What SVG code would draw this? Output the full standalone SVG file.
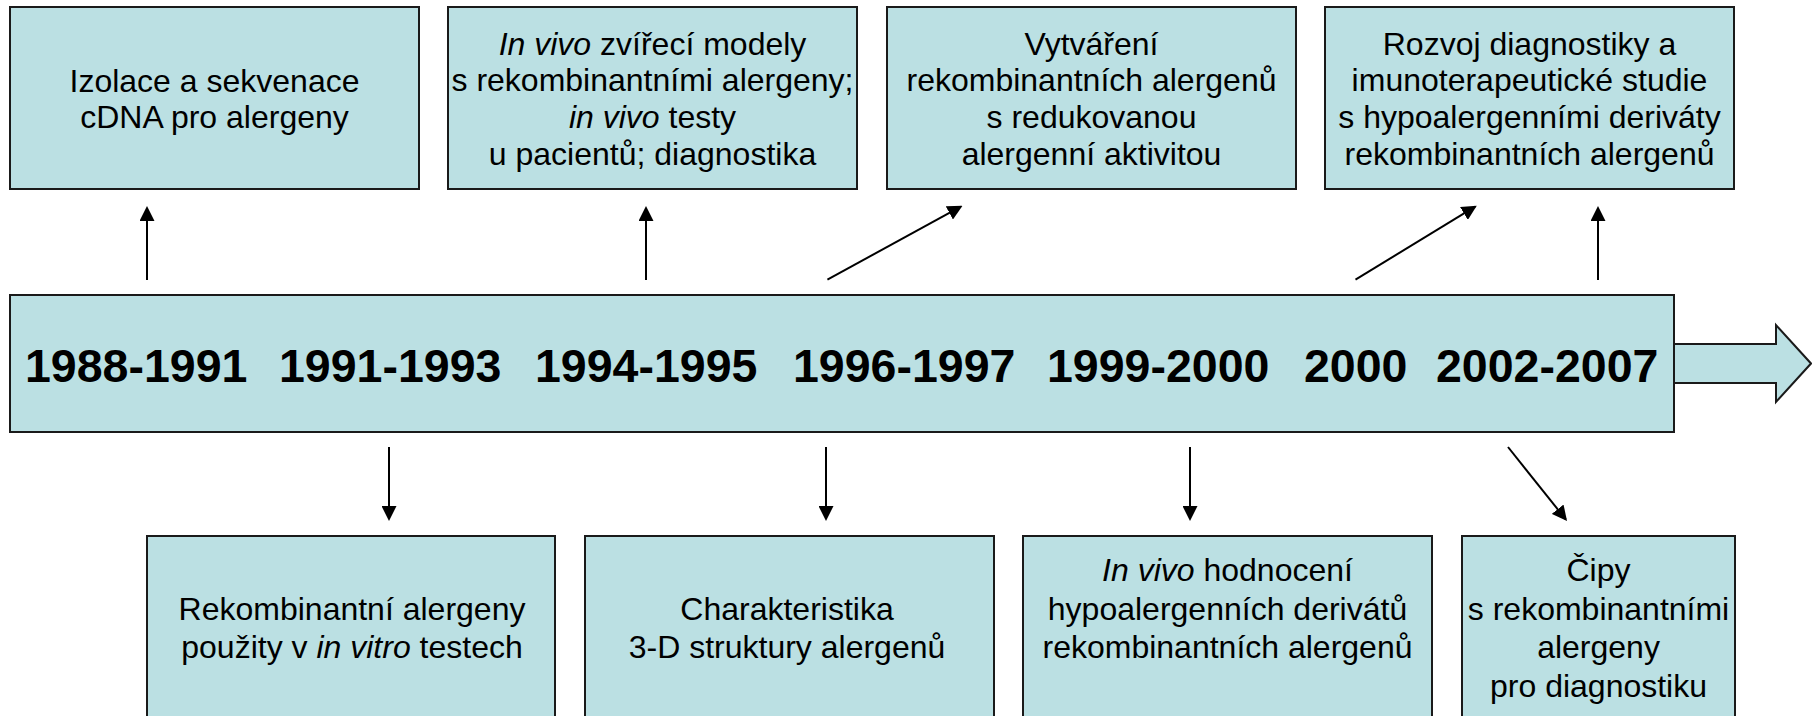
<svg xmlns="http://www.w3.org/2000/svg" width="1812" height="716" viewBox="0 0 1812 716">
  <defs>
    <marker id="head" viewBox="0 0 10 10" refX="8.7" refY="5" markerWidth="15" markerHeight="15" markerUnits="userSpaceOnUse" orient="auto">
      <path d="M0,0 L10,5 L0,10 z" fill="#000"/>
    </marker>
    <style>
      .box { fill: #BBE0E3; stroke: #1a1a1a; stroke-width: 2; }
      .txt { font-family: "Liberation Sans", Arial, sans-serif; font-size: 32px; fill: #000; text-anchor: middle; }
      .yr { font-family: "Liberation Sans", Arial, sans-serif; font-size: 46.5px; font-weight: bold; fill: #000; }
      .it { font-style: italic; }
      .link { stroke: #000; stroke-width: 2; fill: none; marker-end: url(#head); }
    </style>
  </defs>
  <rect width="1812" height="716" fill="#fff"/>

  <!-- timeline bar with block arrow -->
  <g id="timeline">
    <polygon class="box" points="1660,344 1776,344 1776,325 1811,363.5 1776,402 1776,383 1660,383"/>
    <rect class="box" x="10" y="295" width="1664" height="137"/>
    <text class="yr" y="382">
      <tspan x="25">1988-1991</tspan>
      <tspan x="279">1991-1993</tspan>
      <tspan x="535">1994-1995</tspan>
      <tspan x="793">1996-1997</tspan>
      <tspan x="1047">1999-2000</tspan>
      <tspan x="1304">2000</tspan>
      <tspan x="1436">2002-2007</tspan>
    </text>
  </g>

  <!-- upper row -->
  <g id="izolace">
    <rect class="box" x="10" y="7" width="409" height="182"/>
    <text class="txt" x="214.5" y="91.5">Izolace a sekvenace</text>
    <text class="txt" x="214.5" y="128">cDNA pro alergeny</text>
  </g>
  <g id="in-vivo-modely">
    <rect class="box" x="448" y="7" width="409" height="182"/>
    <text class="txt" x="652.5" y="54.5"><tspan class="it">In vivo</tspan> zvířecí modely</text>
    <text class="txt" x="652.5" y="91.2">s rekombinantními alergeny;</text>
    <text class="txt" x="652.5" y="127.9"><tspan class="it">in vivo</tspan> testy</text>
    <text class="txt" x="652.5" y="164.6">u pacientů; diagnostika</text>
  </g>
  <g id="vytvareni">
    <rect class="box" x="887" y="7" width="409" height="182"/>
    <text class="txt" x="1091.5" y="54.5">Vytváření</text>
    <text class="txt" x="1091.5" y="91.2">rekombinantních alergenů</text>
    <text class="txt" x="1091.5" y="127.9">s redukovanou</text>
    <text class="txt" x="1091.5" y="164.6">alergenní aktivitou</text>
  </g>
  <g id="rozvoj">
    <rect class="box" x="1325" y="7" width="409" height="182"/>
    <text class="txt" x="1529.5" y="54.5">Rozvoj diagnostiky a</text>
    <text class="txt" x="1529.5" y="91.2">imunoterapeutické studie</text>
    <text class="txt" x="1529.5" y="127.9">s hypoalergenními deriváty</text>
    <text class="txt" x="1529.5" y="164.6">rekombinantních alergenů</text>
  </g>

  <!-- lower row (boxes run past the bottom edge) -->
  <g id="in-vitro">
    <rect class="box" x="147" y="536" width="408" height="200"/>
    <text class="txt" x="352" y="620">Rekombinantní alergeny</text>
    <text class="txt" x="352" y="658">použity v <tspan class="it">in vitro</tspan> testech</text>
  </g>
  <g id="struktura">
    <rect class="box" x="585" y="536" width="409" height="200"/>
    <text class="txt" x="787" y="620">Charakteristika</text>
    <text class="txt" x="787" y="658">3-D struktury alergenů</text>
  </g>
  <g id="hodnoceni">
    <rect class="box" x="1023" y="536" width="409" height="200"/>
    <text class="txt" x="1227.5" y="581"><tspan class="it">In vivo</tspan> hodnocení</text>
    <text class="txt" x="1227.5" y="620">hypoalergenních derivátů</text>
    <text class="txt" x="1227.5" y="658">rekombinantních alergenů</text>
  </g>
  <g id="cipy">
    <rect class="box" x="1462" y="536" width="273" height="200"/>
    <text class="txt" x="1598.5" y="581">Čipy</text>
    <text class="txt" x="1598.5" y="620">s rekombinantními</text>
    <text class="txt" x="1598.5" y="658">alergeny</text>
    <text class="txt" x="1598.5" y="697">pro diagnostiku</text>
  </g>

  <!-- connectors -->
  <g id="connectors">
    <line class="link" x1="147" y1="280" x2="147" y2="208"/>
    <line class="link" x1="646" y1="280" x2="646" y2="208"/>
    <line class="link" x1="827.4" y1="279.6" x2="960.8" y2="206.7"/>
    <line class="link" x1="1355.5" y1="279.6" x2="1475.1" y2="206.7"/>
    <line class="link" x1="1598" y1="280" x2="1598" y2="208"/>
    <line class="link" x1="389" y1="447" x2="389" y2="519"/>
    <line class="link" x1="826" y1="447" x2="826" y2="519"/>
    <line class="link" x1="1190" y1="447" x2="1190" y2="519"/>
    <line class="link" x1="1508" y1="447" x2="1565.8" y2="519.4"/>
  </g>
</svg>
